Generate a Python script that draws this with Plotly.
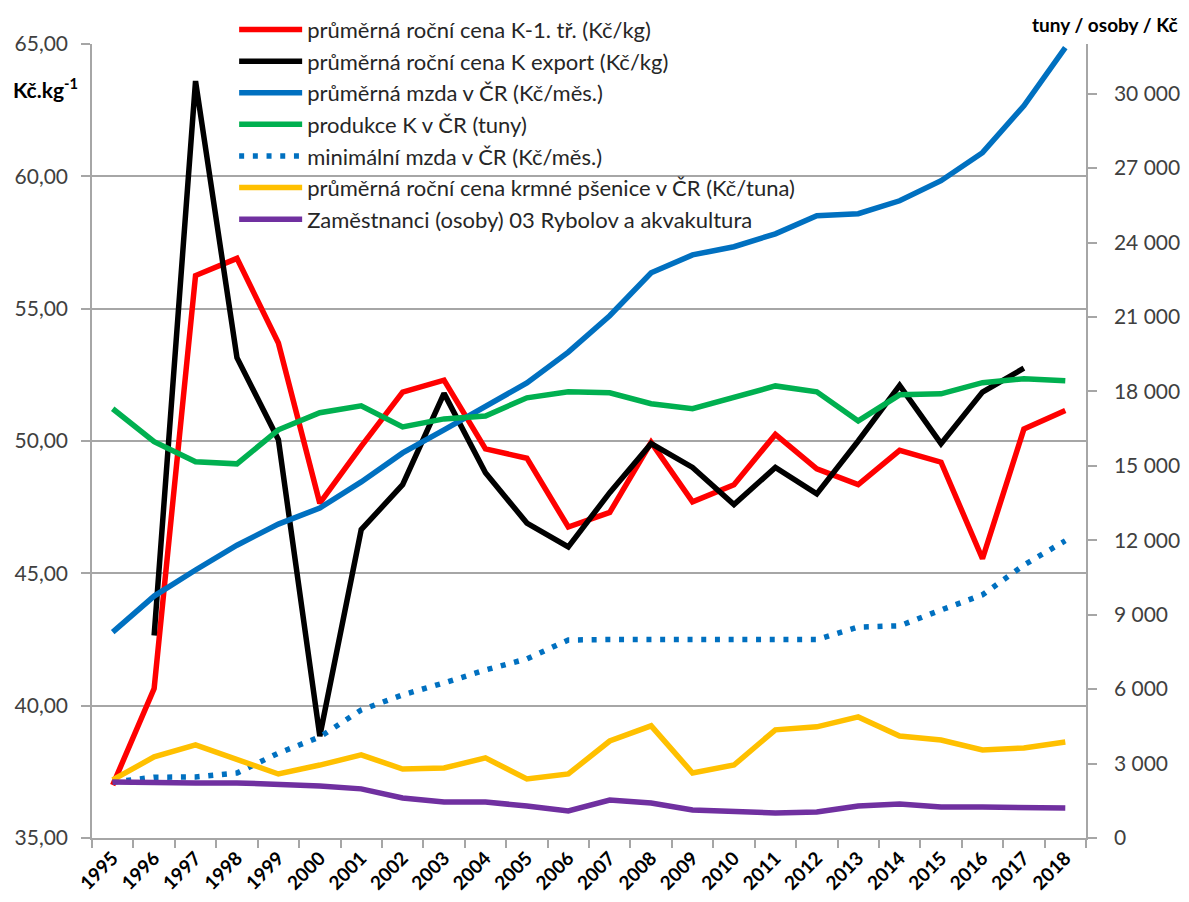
import plotly.graph_objects as go

years = list(range(1995, 2019))

cena_k1 = [37.0, 40.65, 56.25, 56.9, 53.7, 47.65, 49.8, 51.85, 52.3, 49.7, 49.35,
           46.75, 47.3, 49.95, 47.7, 48.35, 50.25, 48.95, 48.35, 49.65, 49.2,
           45.55, 50.45, 51.15]
cena_export = [None, 42.65, 63.6, 53.15, 50.05, 38.85, 46.65, 48.35, 51.8, 48.8, 46.9,
               46.0, 48.05, 49.9, 49.0, 47.6, 49.0, 48.0, 50.0, 52.1, 49.9,
               51.85, 52.75, None]
mzda_prum = [8300, 9750, 10800, 11800, 12650, 13300, 14350, 15520, 16450, 17380, 18340,
             19580, 21050, 22780, 23500, 23830, 24350, 25080, 25160, 25680, 26490,
             27620, 29510, 31850]
produkce = [17300, 15970, 15160, 15080, 16450, 17140, 17420, 16570, 16890, 17010, 17740,
            17980, 17940, 17500, 17300, 17740, 18220, 17980, 16810, 17860, 17900,
            18350, 18510, 18430]
mzda_min = [2250, 2450, 2460, 2620, 3420, 4070, 5160, 5770, 6250, 6770, 7220,
            7980, 8000, 8000, 8000, 8000, 8000, 8000, 8500, 8550, 9190,
            9800, 11000, 11980]
psenice = [2340, 3270, 3750, 3150, 2580, 2940, 3350, 2780, 2820, 3230, 2380,
           2580, 3910, 4520, 2620, 2940, 4360, 4480, 4880, 4110, 3950,
           3550, 3630, 3870]
zamestnanci = [2260, 2220, 2220, 2220, 2180, 2100, 1980, 1610, 1450, 1450, 1290,
               1090, 1530, 1410, 1130, 1050, 1010, 1050, 1290, 1370, 1250,
               1250, 1250, 1210]

names = [
    "průměrná roční cena K-1. tř. (Kč/kg)",
    "průměrná roční cena K export (Kč/kg)",
    "průměrná mzda v ČR (Kč/měs.)",
    "produkce K v ČR (tuny)",
    "minimální mzda v ČR (Kč/měs.)",
    "průměrná roční cena krmné pšenice v ČR (Kč/tuna)",
    "Zaměstnanci (osoby) 03 Rybolov a akvakultura",
]

FONT = "Lato"
LW = 5.5

fig = go.Figure()
fig.add_trace(go.Scatter(x=years, y=cena_k1, name=names[0], mode="lines",
                         line=dict(color="#FF0000", width=LW)))
fig.add_trace(go.Scatter(x=years, y=cena_export, name=names[1], mode="lines",
                         line=dict(color="#000000", width=LW)))
fig.add_trace(go.Scatter(x=years, y=mzda_prum, name=names[2], mode="lines", yaxis="y2",
                         line=dict(color="#0070C0", width=LW)))
fig.add_trace(go.Scatter(x=years, y=produkce, name=names[3], mode="lines", yaxis="y2",
                         line=dict(color="#00B050", width=LW)))
fig.add_trace(go.Scatter(x=years, y=mzda_min, name=names[4], mode="lines", yaxis="y2",
                         line=dict(color="#0070C0", width=LW, dash="5px,8.7px")))
fig.add_trace(go.Scatter(x=years, y=psenice, name=names[5], mode="lines", yaxis="y2",
                         line=dict(color="#FFC000", width=LW)))
fig.add_trace(go.Scatter(x=years, y=zamestnanci, name=names[6], mode="lines", yaxis="y2",
                         line=dict(color="#7030A0", width=LW)))

# the page body adds an 8px margin, so the figure is sized to fit inside it
fig.update_layout(
    width=1173, height=886,
    margin=dict(l=84, r=95, t=36, b=56, autoexpand=False),
    paper_bgcolor="white", plot_bgcolor="white",
    separators=", ",
    font=dict(family=FONT, size=21, color="#404040"),
    showlegend=True,
    legend=dict(
        x=0.143, y=1.0444, xanchor="left", yanchor="top",
        bgcolor="rgba(0,0,0,0)", borderwidth=0,
        font=dict(family=FONT, size=22, color="#262626"),
        itemwidth=63, tracegroupgap=0,
    ),
    xaxis=dict(
        range=[1994.5, 2018.5],
        tickmode="array", tickvals=years, ticktext=[str(y) for y in years],
        tickangle=-45, ticks="",
        tickfont=dict(family=FONT, size=19, color="#000000", weight="bold"),
        showgrid=False, zeroline=False, automargin=False,
        showline=True, linecolor="#A6A6A6", linewidth=1.5,
        minor=dict(tick0=1994.5, dtick=1, ticks="outside", ticklen=8,
                   tickcolor="#A6A6A6", tickwidth=1.5, showgrid=False),
    ),
    yaxis=dict(
        range=[35, 65], dtick=5, tick0=35, tickformat=".2f",
        ticks="outside", ticklen=9, tickcolor="#A6A6A6", tickwidth=1.5,
        ticklabelstandoff=9, automargin=False,
        showgrid=True, gridcolor="#A6A6A6", gridwidth=1.5,
        showline=True, linecolor="#A6A6A6", linewidth=1.5, zeroline=False,
        tickfont=dict(family=FONT, size=21, color="#404040"),
    ),
    yaxis2=dict(
        range=[0, 32000], dtick=3000, tick0=0, tickformat=",d",
        overlaying="y", side="right",
        ticks="outside", ticklen=9, tickcolor="#A6A6A6", tickwidth=1.5,
        ticklabelstandoff=13, automargin=False,
        showgrid=False, zeroline=False,
        showline=True, linecolor="#A6A6A6", linewidth=1.5,
        tickfont=dict(family=FONT, size=21, color="#404040"),
    ),
    annotations=[
        dict(text="<b>Kč.kg<sup>-1</sup></b>", xref="paper", yref="paper",
             x=-0.081, y=0.944, xanchor="left", yanchor="middle", showarrow=False,
             font=dict(family=FONT, size=21, color="#000000")),
        dict(text="<b>tuny / osoby / Kč</b>", xref="paper", yref="paper",
             x=1.0946, y=1.024, xanchor="right", yanchor="middle", showarrow=False,
             font=dict(family=FONT, size=19, color="#000000")),
    ],
)

fig.write_html("out.html")
